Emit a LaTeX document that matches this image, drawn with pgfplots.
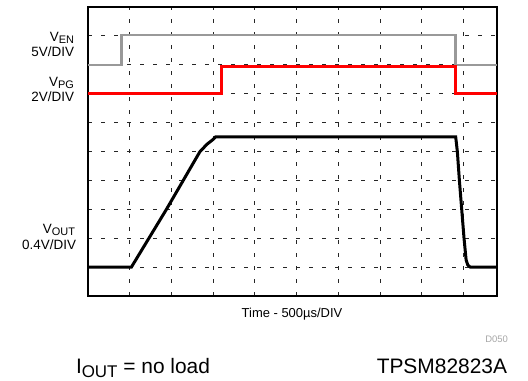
\documentclass[border=0pt]{standalone}
\usepackage{fontspec}
\setmainfont{Liberation Sans}
\usepackage{pgfplots}
\pgfplotsset{compat=1.18}
\definecolor{engray}{HTML}{999999}
\definecolor{pgred}{HTML}{FF0000}
\newcommand{\sub}[1]{\raisebox{-0.2em}{\fontsize{11}{11}\selectfont #1}}
\begin{document}
\begin{tikzpicture}
\path[use as bounding box] (0,0) rectangle (528bp,381bp);
\begin{axis}[
  at={(88bp,85bp)}, anchor=south west,
  scale only axis, width=409bp, height=289bp,
  xmin=0, xmax=9.8, ymin=0, ymax=10,
  xtick={1,...,9}, ytick={1,...,9},
  xticklabels={}, yticklabels={},
  major tick length=0pt,
  grid=major,
  major grid style={black!85, line width=0.9bp, dash pattern=on 3.5bp off 9.5bp},
  axis line style={line width=2.8bp},
  clip=true,
]
\addplot[engray, line width=2.8bp] coordinates {(0,7.99) (0.81,7.99) (0.81,9.03) (8.81,9.03) (8.81,7.99) (9.8,7.99)};
\addplot[pgred, line width=3bp] coordinates {(0,7.01) (3.2,7.01) (3.2,7.93) (8.81,7.93) (8.81,7.01) (9.8,7.01)};
\addplot[black, line width=3bp] coordinates {(0,1.0) (1.04,1.0) (1.88,3.0) (2.68,4.99) (2.85,5.25) (3.0,5.42) (3.06,5.51) (8.81,5.51) (8.85,5.0) (8.9,3.98) (9.01,2.0) (9.06,1.25) (9.1,1.07) (9.16,1.0) (9.8,1.0)};
\end{axis}
\begin{scope}[every node/.style={inner sep=0pt, outer sep=0pt}]
\node[anchor=base east, font=\fontsize{13.5}{16}\selectfont] at (74bp,{(381-41)*1bp}) {V\sub{EN}};
\node[anchor=base east, font=\fontsize{13.5}{16}\selectfont] at (74bp,{(381-56)*1bp}) {5V/DIV};
\node[anchor=base east, font=\fontsize{13.5}{16}\selectfont] at (74bp,{(381-86)*1bp}) {V\sub{PG}};
\node[anchor=base east, font=\fontsize{13.5}{16}\selectfont] at (74bp,{(381-101)*1bp}) {2V/DIV};
\node[anchor=base east, font=\fontsize{13.5}{16}\selectfont] at (75bp,{(381-233)*1bp}) {V\sub{OUT}};
\node[anchor=base east, font=\fontsize{13.5}{16}\selectfont] at (76bp,{(381-249)*1bp}) {0.4V/DIV};
\node[anchor=base, font=\fontsize{13}{15}\selectfont] at (292bp,{(381-317)*1bp}) {Time - 500µs/DIV};
\node[anchor=base east, font=\fontsize{9.5}{11}\selectfont, text=black!35] at (508bp,{(381-342)*1bp}) {D050};
\node[anchor=base west, font=\fontsize{21}{24}\selectfont] at (76bp,{(381-373)*1bp}) {I\raisebox{-0.2em}{\fontsize{17}{17}\selectfont OUT} = no load};
\node[anchor=base east, font=\fontsize{21}{24}\selectfont] at (507bp,{(381-373)*1bp}) {TPSM82823A};
\end{scope}
\end{tikzpicture}
\end{document}
